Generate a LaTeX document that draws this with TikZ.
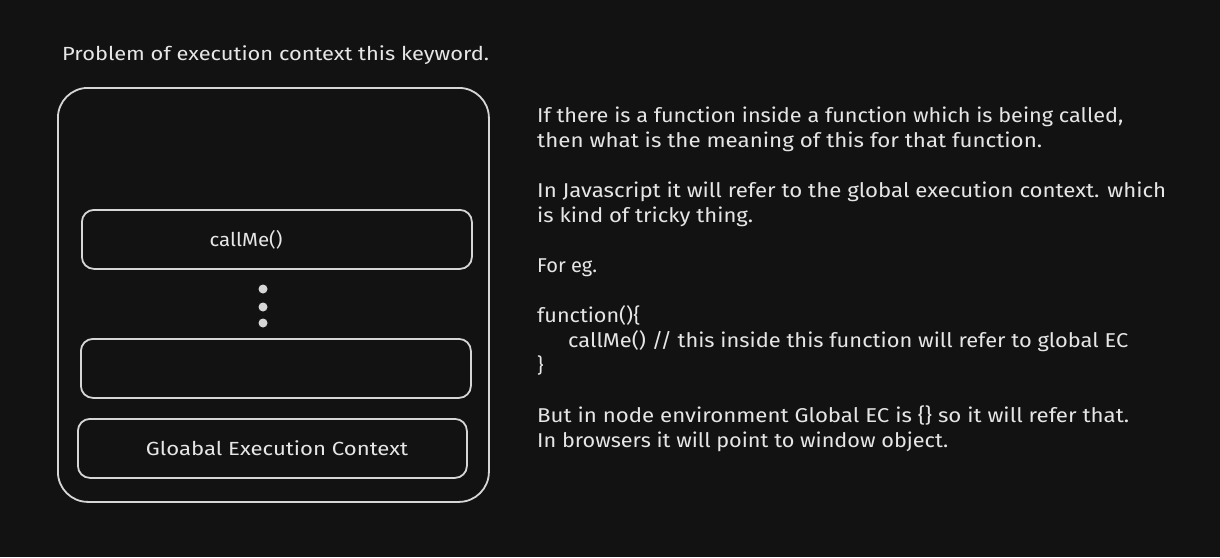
\documentclass[tikz,border=0pt]{standalone}
\usepackage{fontspec}
\usepackage{graphicx}
\setmainfont{Fira Sans}
\newcommand{\fw}[2]{\resizebox{#1pt}{\height}{#2}}
\definecolor{bg}{HTML}{121212}
\definecolor{ink}{HTML}{E6E6E6}
\definecolor{edge}{HTML}{D6D6D6}
\begin{document}
\begin{tikzpicture}[x=1pt,y=-1pt,
  box/.style={draw=edge,line width=1.8pt,rounded corners=12pt,inner sep=0pt,anchor=north west},
  txt/.style={text=ink,font=\fontsize{19}{24}\selectfont,inner sep=0pt},
  line/.style={text=ink,font=\fontsize{20}{25}\selectfont,inner sep=0pt,anchor=base west},
  dotc/.style={circle,fill=edge,inner sep=0pt,minimum size=9pt}]
\fill[bg] (0,0) rectangle (1220,557);
\useasboundingbox (0,0) rectangle (1220,557);
\node[txt,anchor=base west] (title) at (62,60) {\fw{427}{Problem of execution context this keyword.}};
\node[box,rounded corners=30pt,minimum width=431pt,minimum height=414pt] (outer) at (57,87) {};
\node[box,minimum width=390pt,minimum height=59pt] (call) at (81,209) {};
\node[txt] (calltxt) at (246,240) {\fw{73}{callMe()}};
\node[dotc] (d1) at (263,289) {};
\node[dotc] (d2) at (263,307) {};
\node[dotc] (d3) at (263,323) {};
\node[box,minimum width=390pt,minimum height=59pt] (empty) at (80,338) {};
\node[box,minimum width=389pt,minimum height=59pt] (gec) at (77,418) {};
\node[txt] (gectxt) at (277,448) {\fw{262}{Gloabal Execution Context}};
\node[line] (l1) at (537,122) {\fw{586}{If there is a function inside a function which is being called,}};
\node[line] (l2) at (537,147) {\fw{505}{then what is the meaning of this for that function.}};
\node[line] (l3) at (537,197) {\fw{629}{In Javascript it will refer to the global execution context. which}};
\node[line] (l4) at (537,222) {\fw{216}{is kind of tricky thing.}};
\node[line] (l5) at (537,272) {\fw{60}{For eg.}};
\node[line] (l6) at (537,322) {\fw{103}{function()\{}};
\node[line] (l7) at (568,347) {\fw{560}{callMe() // this inside this function will refer to global EC}};
\node[line] (l8) at (537,372) {\}};
\node[line] (l9) at (537,422) {\fw{592}{But in node environment Global EC is \{\} so it will refer that.}};
\node[line] (l10) at (537,447) {\fw{411}{In browsers it will point to window object.}};
\end{tikzpicture}
\end{document}
